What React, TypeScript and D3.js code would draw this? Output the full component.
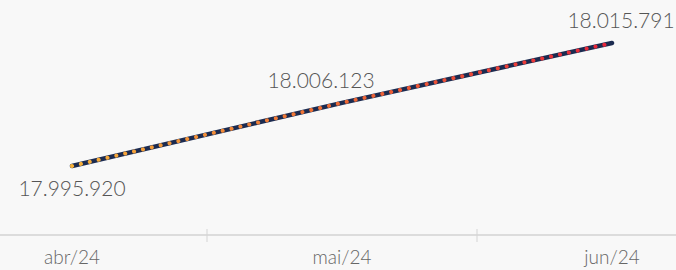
import React, { useEffect, useRef } from 'react';
import * as d3 from 'd3';

const months = ['abr/24', 'mai/24', 'jun/24'];
const values = [17995920, 18006123, 18015791];
// label placement per point: below or above the line
const labelSide = ['below', 'above', 'above'];

const W = 676;
const H = 270;

const fmt = (v: number) => d3.format(',')(v).replace(/,/g, '.');

const App = () => {
  const ref = useRef<SVGSVGElement>(null);

  useEffect(() => {
    if (!ref.current) return;
    const svg = d3.select(ref.current);
    svg.selectAll('*').remove();

    svg.append('rect').attr('width', W).attr('height', H).attr('fill', '#f8f8f8');

    // bands run past the edges, like the original
    const x = d3.scaleBand<string>()
      .domain(months)
      .range([-63, 747]);

    const y = d3.scaleLinear()
      .domain([17995920, 18015791])
      .range([166, 43]);

    const cx = (m: string) => (x(m) as number) + x.bandwidth() / 2;

    // gradient for the dotted overlay
    const defs = svg.append('defs');
    const grad = defs.append('linearGradient')
      .attr('id', 'dots')
      .attr('gradientUnits', 'userSpaceOnUse')
      .attr('x1', cx(months[0])).attr('x2', cx(months[2]))
      .attr('y1', 0).attr('y2', 0);
    grad.append('stop').attr('offset', '0%').attr('stop-color', '#f6b13a');
    grad.append('stop').attr('offset', '50%').attr('stop-color', '#ee6a35');
    grad.append('stop').attr('offset', '100%').attr('stop-color', '#e8243a');

    // axis
    const axis = svg.append('g')
      .attr('transform', 'translate(0,235)')
      .call(d3.axisBottom(x).tickSize(0).tickPadding(16));
    axis.select('.domain').remove();
    axis.append('line')
      .attr('x1', 0).attr('x2', W)
      .attr('stroke', '#dcdcdc').attr('stroke-width', 2);
    axis.selectAll('.tick line').remove();
    months.slice(1).forEach(m => {
      axis.append('line')
        .attr('x1', x(m) as number).attr('x2', x(m) as number)
        .attr('y1', -6).attr('y2', 7)
        .attr('stroke', '#d4d4d4').attr('stroke-width', 1);
    });
    axis.selectAll('.tick text')
      .attr('font-family', 'Lato, "Open Sans", sans-serif')
      .attr('font-weight', 300)
      .attr('font-size', 19)
      .attr('fill', '#666');

    const line = d3.line<number>()
      .x((d, i) => cx(months[i]))
      .y(d => y(d));

    svg.append('path')
      .datum(values)
      .attr('fill', 'none')
      .attr('stroke', '#1c2b50')
      .attr('stroke-width', 4.5)
      .attr('stroke-linecap', 'round')
      .attr('d', line);

    svg.append('path')
      .datum(values)
      .attr('fill', 'none')
      .attr('stroke', 'url(#dots)')
      .attr('stroke-width', 4)
      .attr('stroke-linecap', 'round')
      .attr('stroke-dasharray', '0.1 9')
      .attr('d', line);

    // value labels
    const dx = [0, -21, 9];
    svg.selectAll('text.val')
      .data(values)
      .enter()
      .append('text')
      .attr('class', 'val')
      .attr('x', (d, i) => cx(months[i]) + dx[i])
      .attr('y', (d, i) => y(d) + (labelSide[i] === 'below' ? 30 : -15))
      .attr('text-anchor', 'middle')
      .attr('font-family', 'Lato, "Open Sans", sans-serif')
      .attr('font-weight', 300)
      .attr('font-size', 21)
      .attr('fill', '#555')
      .text(d => fmt(d));
  }, []);

  return (
    <svg
      ref={ref}
      width={W}
      height={H}
      style={{ position: 'fixed', top: 0, left: 0, display: 'block' }}
    />
  );
};

export default App;
